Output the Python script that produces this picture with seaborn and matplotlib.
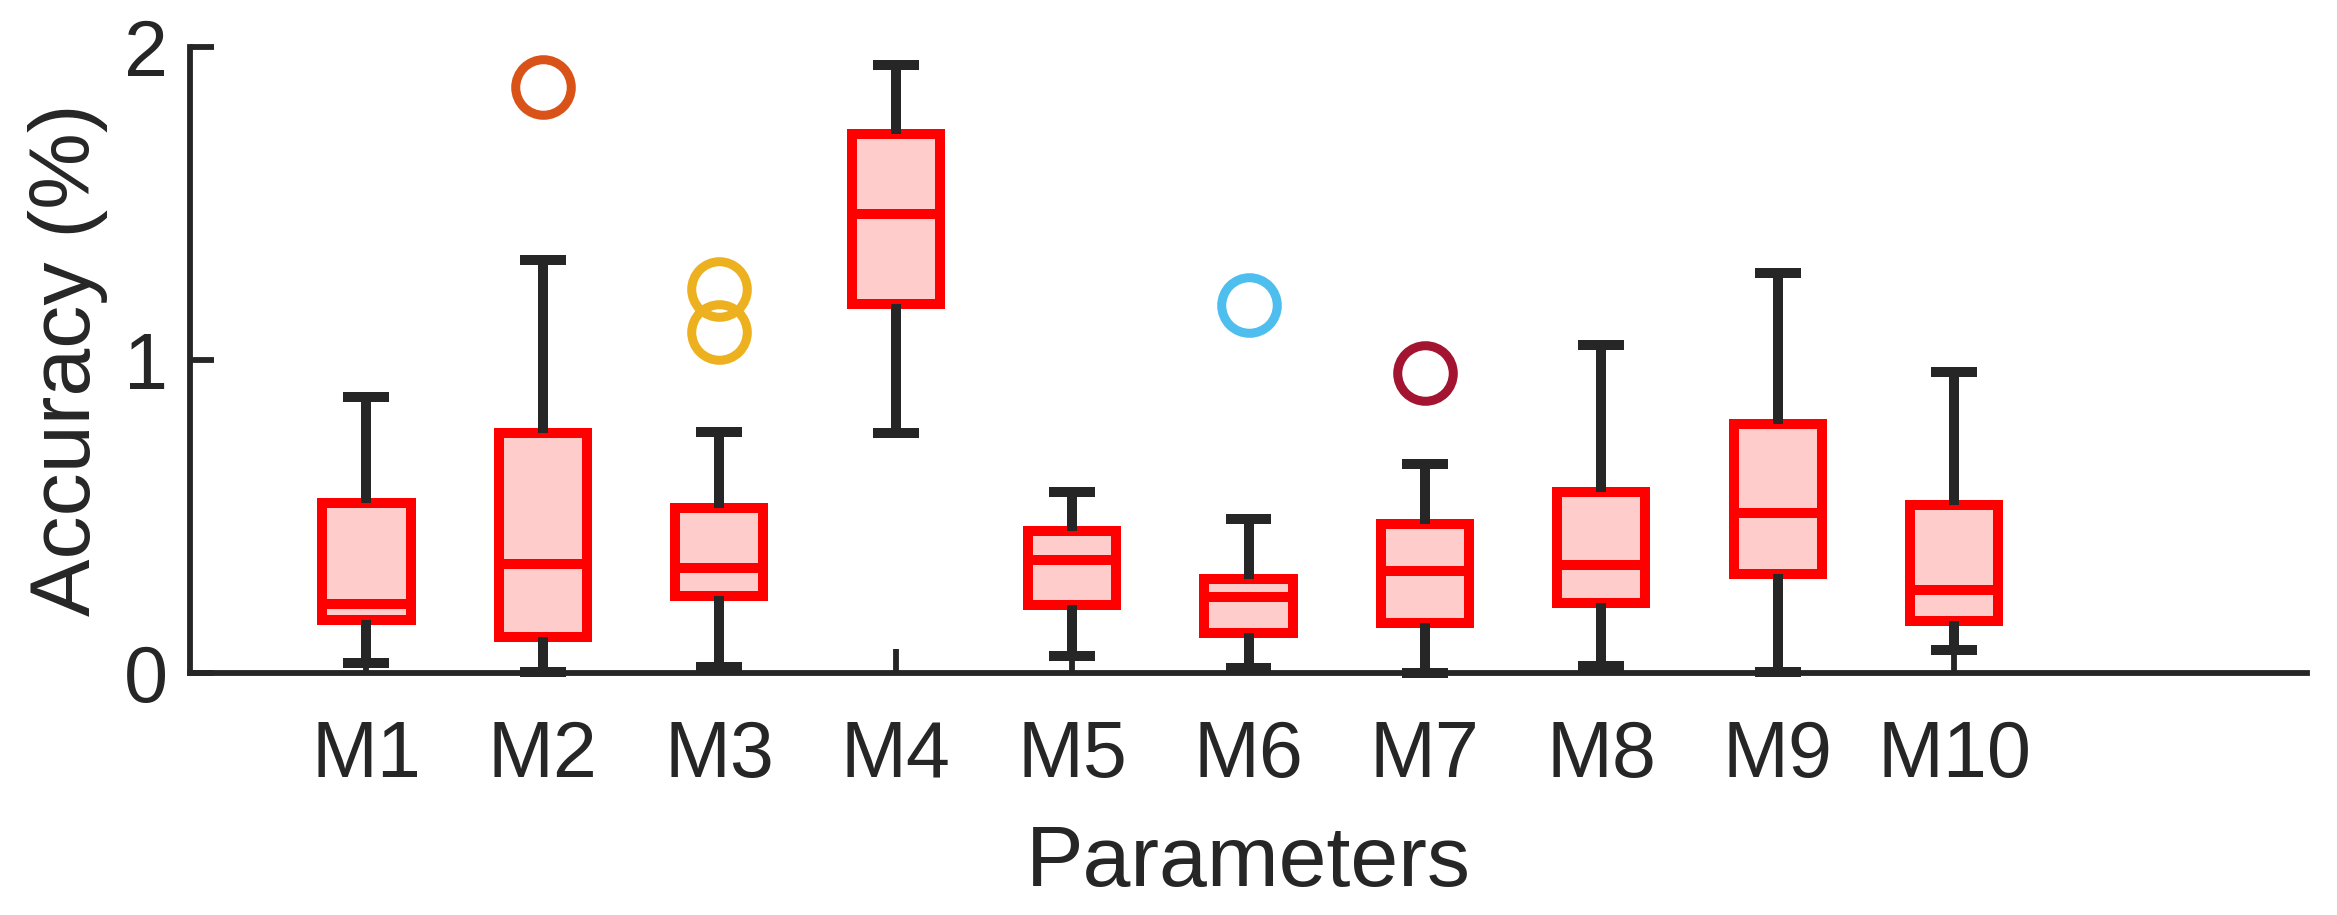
import numpy as np
import pandas as pd
import matplotlib
matplotlib.use("Agg")
import matplotlib.pyplot as plt
import seaborn as sns

# --- values ---
models = ["M1", "M2", "M3", "M4", "M5", "M6", "M7", "M8", "M9", "M10"]
whis_lo = [0.033, 0.004, 0.018, 0.768, 0.053, 0.017, 0.001, 0.021, 0.002, 0.073]
q1 = [0.169, 0.114, 0.247, 1.180, 0.216, 0.129, 0.161, 0.225, 0.315, 0.167]
median = [0.222, 0.348, 0.336, 1.465, 0.360, 0.244, 0.327, 0.344, 0.510, 0.265]
q3 = [0.542, 0.766, 0.527, 1.722, 0.453, 0.299, 0.476, 0.578, 0.796, 0.537]
whis_hi = [0.883, 1.319, 0.771, 1.944, 0.577, 0.491, 0.669, 1.048, 1.277, 0.962]

outlier_model = ["M2", "M3", "M3", "M6", "M7"]
outlier_value = [1.873, 1.226, 1.088, 1.176, 0.960]
outlier_color = {"M2": "#D95319", "M3": "#EDB120", "M6": "#4DBEEE", "M7": "#A2142F"}

# --- small sample per model that reproduces the summary stats exactly ---
# 13 points: quartiles land on index 3, 6, 9 with linear percentiles
rows = []
for i, m in enumerate(models):
    outs = sorted(v for mm, v in zip(outlier_model, outlier_value) if mm == m)
    tail = [whis_hi[i]] * (2 - len(outs)) + outs
    sample = ([whis_lo[i]] + [q1[i]] * 3 + [median[i]] * 3 + [q3[i]] * 3
              + [whis_hi[i]] + tail)
    rows += [(m, v) for v in sample]
df = pd.DataFrame(rows, columns=["model", "accuracy"])

sns.set_style("white")
plt.rcParams["font.family"] = ["Liberation Sans", "DejaVu Sans"]

dark = "#262626"
fig, ax = plt.subplots(figsize=(23.37, 9.15), dpi=100)
fig.subplots_adjust(left=190 / 2337, right=2307 / 2337,
                    bottom=1 - 673 / 915, top=1 - 47 / 915)

sns.boxplot(data=df, x="model", y="accuracy", order=models, ax=ax,
            width=0.5, color="#FFCCCC", saturation=1, linecolor=dark,
            linewidth=7.2, fliersize=40, capwidths=0.26,
            boxprops=dict(edgecolor="#FF0000"),
            medianprops=dict(color="#FF0000"),
            whiskerprops=dict(color=dark),
            capprops=dict(color=dark, solid_capstyle="butt"),
            flierprops=dict(marker="o", markerfacecolor="none",
                            markeredgewidth=6.5))

# outliers coloured per group, like the original
box = ax.containers[0]
for m, fl in zip(models, box.fliers):
    fl.set_markeredgecolor(outlier_color.get(m, dark))
    fl.set_clip_on(False)
for art in list(box.caps) + list(box.whiskers):
    art.set_clip_on(False)

ax.set_xlim(-1, 11)
ax.set_ylim(0, 2)
ax.set_yticks([0, 1, 2])

sns.despine(ax=ax)
for side in ["left", "bottom"]:
    ax.spines[side].set_linewidth(4.2)
    ax.spines[side].set_color(dark)
ax.tick_params(direction="in", length=17, width=4.2, color=dark,
               labelsize=57, labelcolor=dark, left=True, bottom=True)
ax.tick_params(axis="x", pad=33)
ax.tick_params(axis="y", pad=16)

ax.set_xlabel("Parameters", fontsize=62, color=dark, labelpad=22)
ax.set_ylabel("Accuracy (%)", fontsize=62, color=dark, labelpad=11)

fig.savefig("out.png", dpi=100)
